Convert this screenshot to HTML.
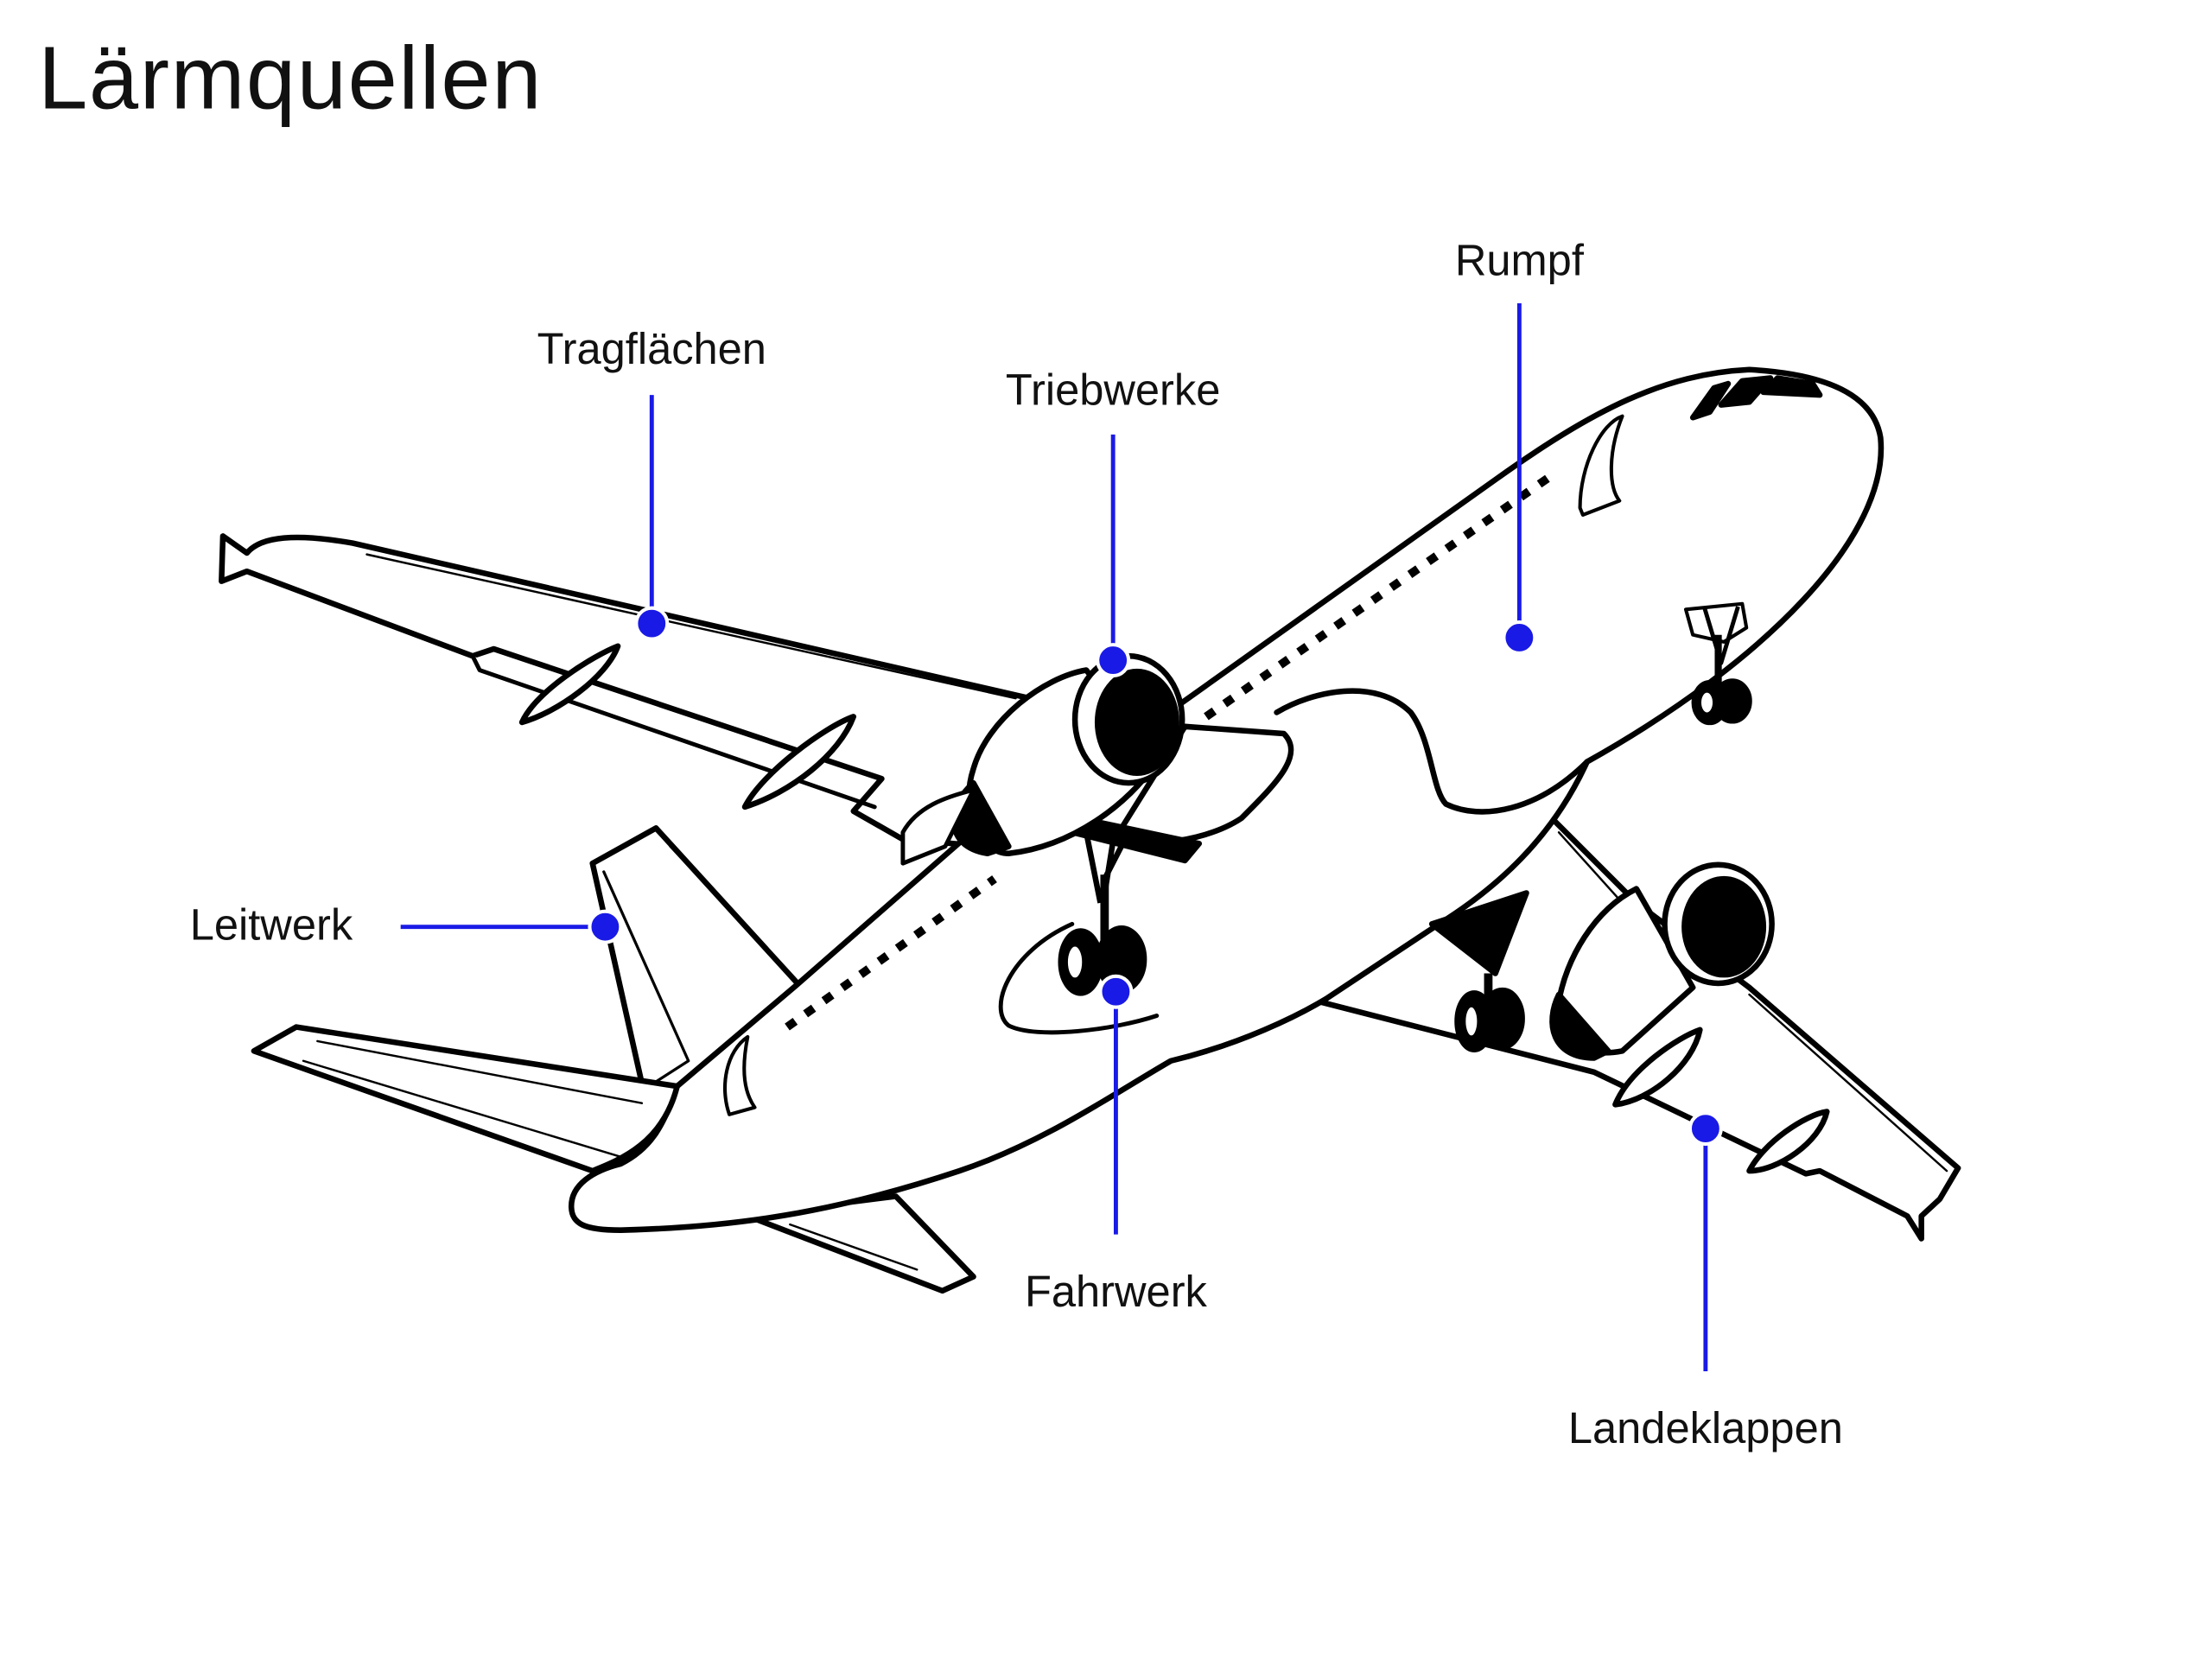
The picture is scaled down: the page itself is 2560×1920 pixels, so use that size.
<!DOCTYPE html>
<html><head><meta charset="utf-8"><style>
html,body{margin:0;padding:0;background:#fff;}
svg{display:block;}
text{font-family:"Liberation Sans",sans-serif;fill:#111;}
</style></head><body>
<svg width="2560" height="1920" viewBox="0 0 1568 1176" xmlns="http://www.w3.org/2000/svg">
<rect width="1568" height="1176" fill="#fff"/>
<text x="27" y="77" font-size="63" letter-spacing="1">Lärmquellen</text>

<g fill="#fff" stroke="#000" stroke-width="4" stroke-linejoin="round" stroke-linecap="round">
<path d="M730,495 L250,385 C210,378 185,380 175,392 L158,380 L157,412 L175,405 L335,465 L350,460 L625,552 L605,575 L640,595 L700,600 Z"/>
<path d="M260,393 L720,495" stroke-width="1.5"/>
<path d="M335,465 L340,475 L620,572" stroke-width="3"/>
<path d="M370,512 C380,490 420,465 438,458 C430,480 395,505 370,512 Z"/>
<path d="M528,572 C540,548 585,515 605,508 C595,535 560,562 528,572 Z"/>
<path d="M420,612 L465,587 L568,700 L480,770 L455,768 Z"/>
<path d="M428,618 L488,752 L460,770" stroke-width="2" fill="none"/>
<path d="M475,600 L560,690" stroke-width="1.5"/>
<path d="M530,862 L668,915 L690,905 L635,848 L580,855 Z"/>
<path d="M560,868 L650,900" stroke-width="1.5"/>
<path d="M1100,580 L1160,640 L1240,700 L1388,828 L1375,850 L1362,862 L1362,878 L1352,862 L1290,830 L1280,832 L1130,760 L935,710 Z"/>
<path d="M1240,705 L1380,830" stroke-width="1.5"/>
<path d="M1105,590 L1150,640" stroke-width="1.5"/>
<path d="M1240,830 C1250,810 1280,790 1295,788 C1290,810 1260,830 1240,830 Z"/>
<path d="M1145,783 C1155,758 1190,735 1205,730 C1200,755 1170,780 1145,783 Z"/>
<path d="M1125,540 C1250,470 1340,380 1333,310 C1328,280 1295,265 1240,262 C1180,265 1130,290 1060,340 L838,498 L700,580 L565,698 L480,770 C470,800 460,815 440,825 C420,830 405,840 405,855 C405,868 415,872 440,872 C520,870 590,860 680,830 C740,810 790,775 830,752 C880,740 920,720 940,708 L1020,655 C1060,630 1100,595 1125,540 Z"/>
<path d="M905,505 C930,490 975,480 1000,505 C1015,525 1015,560 1025,570 C1050,582 1090,575 1125,540" fill="none"/>
<path d="M760,655 C715,675 700,715 715,727 C735,737 790,730 820,720" fill="none" stroke-width="3"/>
<path d="M480,770 L210,728 L180,745 L420,830 C440,822 470,810 480,770 Z"/>
<path d="M225,738 L455,782" stroke-width="1.5"/>
<path d="M215,752 L440,820" stroke-width="1.5"/>
<path d="M1200,296 L1215,275 L1225,272 L1212,292 Z" fill="#000"/>
<path d="M1220,287 L1235,270 L1255,268 L1240,285 Z" fill="#000"/>
<path d="M1250,278 L1260,268 L1285,272 L1290,280 Z" fill="#000"/>
<path d="M1120,360 C1120,330 1135,300 1150,295 C1140,320 1140,345 1148,355 L1122,365 Z" stroke-width="2.5"/>
<path d="M517,790 C510,770 515,745 530,735 C525,760 528,775 535,785 Z" stroke-width="2.5"/>
</g>
<path d="M855,508 L1100,337" stroke="#000" stroke-width="6" stroke-dasharray="7,9" fill="none"/>
<path d="M558,728 L705,623" stroke="#000" stroke-width="6" stroke-dasharray="7,9" fill="none"/>

<g stroke="#000" stroke-width="4" stroke-linejoin="round">
<path d="M840,515 L910,520 C925,535 905,555 880,580 C850,600 800,600 790,595 Z" fill="#fff"/>
<path d="M765,580 L850,598 L840,610 L760,590 Z" fill="#000"/>
<path d="M770,475 C740,480 700,510 690,545 C680,575 695,605 715,605 C760,600 800,570 820,540 Z" fill="#fff"/>
<path d="M690,555 C672,570 668,600 700,605 L715,600 Z" fill="#000"/>
<ellipse cx="800" cy="510" rx="38" ry="45" fill="#fff"/>
<ellipse cx="806" cy="512" rx="28" ry="36" fill="#000"/>
<path d="M640,590 C650,572 670,565 690,560 L670,600 L640,612 Z" fill="#fff" stroke-width="3"/>
<path d="M770,590 L780,640 M790,590 L782,640 M800,590 L782,625" fill="none"/>
<path d="M783,620 L783,670" stroke-width="6"/>
<ellipse cx="795" cy="680" rx="16" ry="22" fill="#000"/>
<ellipse cx="766" cy="682" rx="14" ry="22" fill="#000"/>
<ellipse cx="762" cy="682" rx="6" ry="12" fill="#fff" stroke-width="2"/>
<path d="M1160,630 C1130,645 1110,680 1105,710 C1105,740 1125,750 1150,745 L1200,700 Z" fill="#fff"/>
<path d="M1105,705 C1095,725 1100,750 1130,750 L1140,745 Z" fill="#000"/>
<ellipse cx="1218" cy="655" rx="38" ry="42" fill="#fff"/>
<ellipse cx="1222" cy="657" rx="28" ry="34" fill="#000"/>
<path d="M1015,655 L1082,633 L1060,690 Z" fill="#000"/>
<path d="M1055,690 L1055,725" stroke-width="6"/>
<ellipse cx="1065" cy="722" rx="14" ry="20" fill="#000"/>
<ellipse cx="1045" cy="724" rx="12" ry="20" fill="#000"/>
<ellipse cx="1043" cy="724" rx="5" ry="11" fill="#fff" stroke-width="2"/>
<path d="M1195,432 L1235,428 L1238,445 L1222,455 L1200,450 Z" fill="#fff" stroke-width="2.5"/>
<path d="M1208,430 L1220,470 L1232,430" fill="none" stroke-width="3"/>
<path d="M1218,450 L1218,492" stroke-width="5"/>
<ellipse cx="1228" cy="497" rx="12" ry="14" fill="#000"/>
<ellipse cx="1212" cy="498" rx="11" ry="14" fill="#000"/>
<ellipse cx="1210" cy="498" rx="5" ry="8" fill="#fff" stroke-width="2"/>
</g>

<g stroke="#1a1ae6" stroke-width="3" fill="none">
<path d="M462,280 V442"/>
<path d="M789,308 V468"/>
<path d="M1077,215 V452"/>
<path d="M284,657 H429"/>
<path d="M791,703 V875"/>
<path d="M1209,800 V972"/>
</g>
<g fill="#1a1ae6" stroke="#fff" stroke-width="2.5">
<circle cx="462" cy="442" r="11"/>
<circle cx="789" cy="468" r="11"/>
<circle cx="1077" cy="452" r="11"/>
<circle cx="429" cy="657" r="11"/>
<circle cx="791" cy="703" r="11"/>
<circle cx="1209" cy="800" r="11"/>
</g>
<g font-size="31">
<text x="462" y="258" text-anchor="middle">Tragflächen</text>
<text x="789" y="287" text-anchor="middle">Triebwerke</text>
<text x="1077" y="195" text-anchor="middle">Rumpf</text>
<text x="250" y="666" text-anchor="end">Leitwerk</text>
<text x="791" y="926" text-anchor="middle">Fahrwerk</text>
<text x="1209" y="1023" text-anchor="middle">Landeklappen</text>
</g>
</svg>
</body></html>
